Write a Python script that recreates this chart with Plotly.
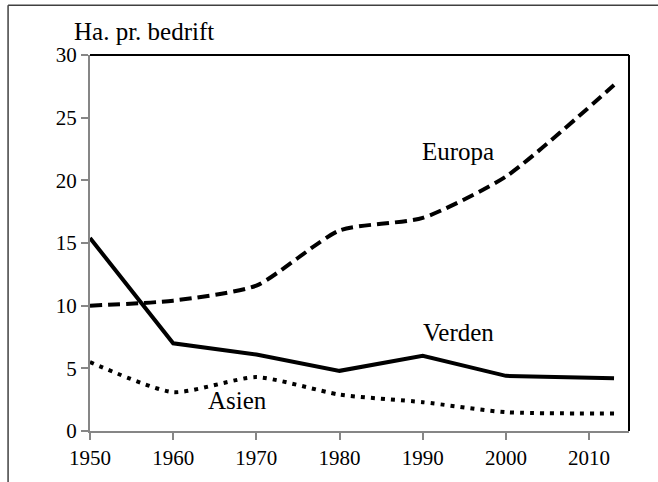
import plotly.graph_objects as go

years = [1950, 1960, 1970, 1980, 1990, 2000, 2013]
europa = [10.0, 10.4, 11.6, 16.0, 17.0, 20.3, 27.6]
verden = [15.4, 7.0, 6.1, 4.8, 6.0, 4.4, 4.2]
asien = [5.5, 3.1, 4.3, 2.9, 2.3, 1.5, 1.4]
xticks = [1950, 1960, 1970, 1980, 1990, 2000, 2010]
yticks = [0, 5, 10, 15, 20, 25, 30]

FONT = "Liberation Serif"

fig = go.Figure()
fig.add_trace(go.Scatter(x=years, y=europa, mode="lines", name="Europa",
                         line=dict(color="black", width=4, dash="12px,6px", shape="spline", smoothing=0.6)))
fig.add_trace(go.Scatter(x=years, y=verden, mode="lines", name="Verden",
                         line=dict(color="black", width=4)))
fig.add_trace(go.Scatter(x=years, y=asien, mode="lines", name="Asien",
                         line=dict(color="black", width=4, dash="4px,6px", shape="spline", smoothing=0.6)))

# plot-area border (top, right) in black
fig.add_shape(type="line", xref="paper", yref="paper", x0=0, x1=1, y0=1, y1=1,
              line=dict(color="#000000", width=2))
fig.add_shape(type="line", xref="paper", yref="paper", x0=1, x1=1, y0=0, y1=1,
              line=dict(color="#000000", width=2))
# outer chart frame (left, top), extending past the picture
fig.add_shape(type="line", xref="paper", yref="paper", x0=-0.152, x1=-0.152, y0=-0.3, y1=1.132,
              line=dict(color="#404040", width=1.5))
fig.add_shape(type="line", xref="paper", yref="paper", x0=-0.152, x1=1.2, y0=1.132, y1=1.132,
              line=dict(color="#404040", width=1.5))

fig.update_layout(
    width=658, height=482,
    margin=dict(l=90, r=29, t=55, b=49),
    paper_bgcolor="white", plot_bgcolor="white",
    showlegend=False,
    font=dict(family=FONT, size=21, color="black"),
    xaxis=dict(range=[1950, 2014.8], tickvals=xticks, ticktext=[str(v) for v in xticks],
               showgrid=False, zeroline=False, showline=True, linecolor="#868686", linewidth=2,
               ticks="outside", ticklen=7, tickcolor="#868686", tickwidth=2,
               tickfont=dict(family=FONT, size=21, color="black")),
    yaxis=dict(range=[0, 30], tickvals=yticks, ticktext=[str(v) for v in yticks],
               showgrid=False, zeroline=False, showline=True, linecolor="#868686", linewidth=2,
               ticks="outside", ticklen=7, tickcolor="#868686", tickwidth=2,
               tickfont=dict(family=FONT, size=21, color="black")),
    annotations=[
        dict(x=(144 - 90) / 539, y=1 + (55 - 31) / 378, text="Ha. pr. bedrift", showarrow=False,
             xref="paper", yref="paper", xanchor="center", yanchor="middle",
             font=dict(family=FONT, size=25)),
        dict(x=1994.3, y=22.3, text="Europa", showarrow=False, xref="x", yref="y",
             xanchor="center", yanchor="middle", font=dict(family=FONT, size=25)),
        dict(x=1994.3, y=7.85, text="Verden", showarrow=False, xref="x", yref="y",
             xanchor="center", yanchor="middle", font=dict(family=FONT, size=25)),
        dict(x=1967.7, y=2.4, text="Asien", showarrow=False, xref="x", yref="y",
             xanchor="center", yanchor="middle", font=dict(family=FONT, size=25)),
    ],
)

fig.write_html("out.html", config={"displayModeBar": False},
               post_script="document.body.style.margin='0px';")
